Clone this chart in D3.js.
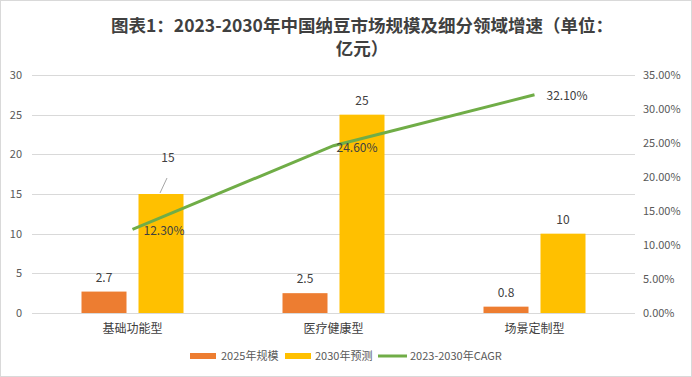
<!DOCTYPE html>
<html>
<head>
<meta charset="utf-8">
<script src="https://cdn.jsdelivr.net/npm/d3@7"></script>
<style>
  body { margin: 0; background: #fff; }
  text { font-family: "Noto Sans CJK SC", "Microsoft YaHei", sans-serif; }
</style>
</head>
<body>
<script>
// chart data
var categories = ["基础功能型", "医疗健康型", "场景定制型"];
var size2025 = [2.7, 2.5, 0.8];
var forecast2030 = [15, 25, 10];
var cagr = [12.3, 24.6, 32.1];
var leftTicks = [0, 5, 10, 15, 20, 25, 30];
var rightTicks = [0, 5, 10, 15, 20, 25, 30, 35];
var seriesNames = ["2025年规模", "2030年预测", "2023-2030年CAGR"];
var titleLines = ["图表1：2023-2030年中国纳豆市场规模及细分领域增速（单位：", "亿元）"];

var w = 692, h = 377;
// plot area (note: "top" is reserved on window, so use other names)
var plotLeft = 32, plotRight = 635, plotTop = 75, plotBottom = 313;
var textColor = "#595959";

var svg = d3.select("body").append("svg")
    .attr("width", w)
    .attr("height", h);

// outer frame
svg.append("rect")
    .attr("x", 0.5).attr("y", 0.5)
    .attr("width", w - 1).attr("height", h - 1)
    .attr("fill", "#fff").attr("stroke", "#d9d9d9");

// title, two lines
svg.append("g").selectAll("text")
    .data(titleLines)
    .enter().append("text")
    .attr("x", 362)
    .attr("y", function(d, i) { return 32 + i * 23; })
    .attr("text-anchor", "middle")
    .attr("fill", "#404040")
    .attr("font-size", 17.5)
    .attr("font-weight", "bold")
    .text(function(d) { return d; });

// scales
var x = d3.scaleBand().domain(categories).range([plotLeft, plotRight]);
var y = d3.scaleLinear().domain([0, 30]).range([plotBottom, plotTop]);
var y2 = d3.scaleLinear().domain([0, 35]).range([plotBottom, plotTop]);

// gridlines
svg.append("g").selectAll("line")
    .data(leftTicks)
    .enter().append("line")
    .attr("x1", plotLeft).attr("x2", plotRight)
    .attr("y1", function(d) { return Math.round(y(d)) + 0.5; })
    .attr("y2", function(d) { return Math.round(y(d)) + 0.5; })
    .attr("stroke", "#d9d9d9");

// left axis labels
svg.append("g").selectAll("text")
    .data(leftTicks)
    .enter().append("text")
    .attr("x", 22)
    .attr("y", function(d) { return y(d) + 4; })
    .attr("text-anchor", "end")
    .attr("font-size", 11)
    .attr("fill", textColor)
    .text(function(d) { return d; });

// right axis labels
svg.append("g").selectAll("text")
    .data(rightTicks)
    .enter().append("text")
    .attr("x", 643)
    .attr("y", function(d) { return y2(d) + 4; })
    .attr("font-size", 11)
    .attr("fill", textColor)
    .text(function(d) { return d.toFixed(2) + "%"; });

// category labels
svg.append("g").selectAll("text")
    .data(categories)
    .enter().append("text")
    .attr("x", function(d) { return x(d) + x.bandwidth() / 2; })
    .attr("y", 333)
    .attr("text-anchor", "middle")
    .attr("font-size", 12)
    .attr("fill", "#404040")
    .text(function(d) { return d; });

var barW = 45, gap = 12;
function cx(i) { return x(categories[i]) + x.bandwidth() / 2; }

// 2025 bars
svg.append("g").selectAll("rect")
    .data(size2025)
    .enter().append("rect")
    .attr("x", function(d, i) { return cx(i) - gap / 2 - barW; })
    .attr("y", function(d) { return y(d); })
    .attr("width", barW)
    .attr("height", function(d) { return plotBottom - y(d); })
    .attr("fill", "#ed7d31");

// 2030 bars
svg.append("g").selectAll("rect")
    .data(forecast2030)
    .enter().append("rect")
    .attr("x", function(d, i) { return cx(i) + gap / 2; })
    .attr("y", function(d) { return y(d); })
    .attr("width", barW)
    .attr("height", function(d) { return plotBottom - y(d); })
    .attr("fill", "#ffc000");

// bar value labels
svg.append("g").selectAll("text")
    .data(size2025)
    .enter().append("text")
    .attr("x", function(d, i) { return cx(i) - gap / 2 - barW / 2; })
    .attr("y", function(d) { return y(d) - 10; })
    .attr("text-anchor", "middle")
    .attr("font-size", 12)
    .attr("fill", "#404040")
    .text(function(d) { return d; });

// first 2030 label was dragged up and right, with a leader line
var labelDx = [7, 0, 0], labelShift = [32, 10, 10];
svg.append("g").selectAll("text")
    .data(forecast2030)
    .enter().append("text")
    .attr("x", function(d, i) { return cx(i) + gap / 2 + barW / 2 + labelDx[i]; })
    .attr("y", function(d, i) { return y(d) - labelShift[i]; })
    .attr("text-anchor", "middle")
    .attr("font-size", 12)
    .attr("fill", "#404040")
    .text(function(d) { return d; });

svg.append("line")
    .attr("x1", cx(0) + gap / 2 + barW / 2 - 1)
    .attr("y1", y(forecast2030[0]) - 1)
    .attr("x2", cx(0) + gap / 2 + barW / 2 + 6)
    .attr("y2", y(forecast2030[0]) - 16)
    .attr("stroke", "#a6a6a6");

// CAGR line
var line = d3.line()
    .x(function(d, i) { return cx(i); })
    .y(function(d) { return y2(d); });

svg.append("path")
    .datum(cagr)
    .attr("d", line)
    .attr("fill", "none")
    .attr("stroke", "#70ad47")
    .attr("stroke-width", 3);

var cagrDx = [11, 3, 12], cagrDy = [6, 6, 5];
svg.append("g").selectAll("text")
    .data(cagr)
    .enter().append("text")
    .attr("x", function(d, i) { return cx(i) + cagrDx[i]; })
    .attr("y", function(d, i) { return y2(d) + cagrDy[i]; })
    .attr("font-size", 12)
    .attr("fill", "#404040")
    .text(function(d) { return d.toFixed(2) + "%"; });

// legend
var legend = svg.append("g").attr("transform", "translate(190,356)");
legend.append("rect").attr("x", 0).attr("y", -3).attr("width", 26).attr("height", 6).attr("fill", "#ed7d31");
legend.append("text").attr("x", 31).attr("y", 4).attr("font-size", 11).attr("fill", textColor).text(seriesNames[0]);
legend.append("rect").attr("x", 95).attr("y", -3).attr("width", 26).attr("height", 6).attr("fill", "#ffc000");
legend.append("text").attr("x", 125).attr("y", 4).attr("font-size", 11).attr("fill", textColor).text(seriesNames[1]);
legend.append("line").attr("x1", 188).attr("x2", 217).attr("y1", 0).attr("y2", 0)
    .attr("stroke", "#70ad47").attr("stroke-width", 3);
legend.append("text").attr("x", 220).attr("y", 4).attr("font-size", 11).attr("fill", textColor).text(seriesNames[2]);
</script>
</body>
</html>
